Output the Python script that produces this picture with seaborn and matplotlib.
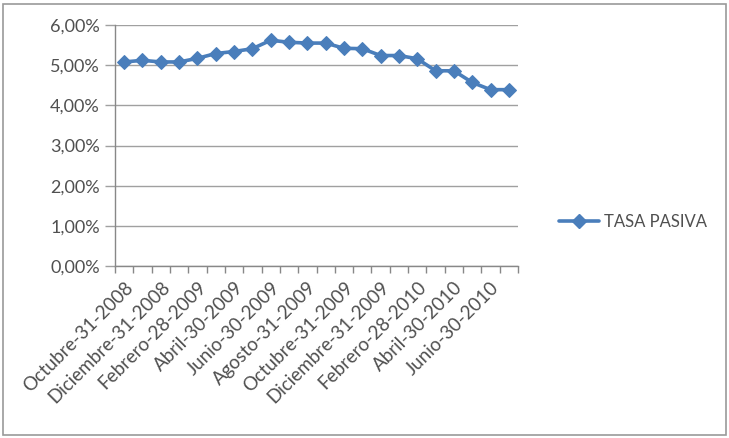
import matplotlib
matplotlib.use("Agg")
import matplotlib.pyplot as plt
import seaborn as sns
import pandas as pd
from matplotlib.patches import Rectangle
from matplotlib.lines import Line2D

fechas = [
    "Octubre-31-2008", "Noviembre-30-2008", "Diciembre-31-2008", "Enero-31-2009",
    "Febrero-28-2009", "Marzo-31-2009", "Abril-30-2009", "Mayo-31-2009",
    "Junio-30-2009", "Julio-31-2009", "Agosto-31-2009", "Septiembre-30-2009",
    "Octubre-31-2009", "Noviembre-30-2009", "Diciembre-31-2009", "Enero-31-2010",
    "Febrero-28-2010", "Marzo-31-2010", "Abril-30-2010", "Mayo-31-2010",
    "Junio-30-2010", "Julio-31-2010",
]
tasa_pasiva = [5.08, 5.12, 5.08, 5.08, 5.17, 5.29, 5.34, 5.41, 5.62, 5.57, 5.55,
               5.55, 5.42, 5.41, 5.24, 5.24, 5.16, 4.86, 4.86, 4.57, 4.39, 4.39]
y_ticks = [0, 1, 2, 3, 4, 5, 6]
serie = "TASA PASIVA"

sns.set_theme(style="white")
plt.rcParams["font.family"] = ["Lato", "DejaVu Sans"]

df = pd.DataFrame({"pos": range(len(fechas)), "fecha": fechas, "valor": tasa_pasiva})

fig = plt.figure(figsize=(7.29, 4.38), dpi=100)
ax = fig.add_axes([115 / 729, 1 - 266 / 438, 403 / 729, 241 / 438])

color = "#4A7EBB"
txt = "#505050"
sns.lineplot(data=df, x="pos", y="valor", ax=ax, color=color, linewidth=2.6,
             marker="D", markersize=7, markeredgecolor=color, legend=False)

ax.set_xlim(-0.5, len(fechas) - 0.5)
ax.set_ylim(0, 6)
ax.set_yticks(y_ticks)
ax.set_yticklabels([f"{v:.2f}%".replace(".", ",") for v in y_ticks],
                   fontsize=13, color=txt)
ax.yaxis.grid(True, color="#A0A0A0", linewidth=1)
ax.set_axisbelow(True)

major = list(range(0, len(fechas), 2))
ax.set_xticks(major)
ax.set_xticklabels([fechas[i] for i in major], rotation=45, ha="right",
                   rotation_mode="anchor", fontsize=13.5, color=txt)
ax.set_xticks([i - 0.5 for i in range(len(fechas) + 1)], minor=True)
ax.tick_params(axis="x", which="major", length=0, pad=9)
ax.tick_params(axis="x", which="minor", length=5, color="#888888", width=1,
               direction="out", bottom=True)
ax.tick_params(axis="y", length=7, color="#A0A0A0", width=1, left=True, pad=4)

for s in ["top", "right"]:
    ax.spines[s].set_visible(False)
for s in ["left", "bottom"]:
    ax.spines[s].set_color("#888888")
    ax.spines[s].set_linewidth(1)

ax.set_xlabel("")
ax.set_ylabel("")

handle = Line2D([0], [0], color=color, linewidth=2.6, marker="D", markersize=7)
fig.legend([handle], [serie], loc="center left",
           bbox_to_anchor=(544 / 729, 1 - 222 / 438), frameon=False,
           fontsize=12, handlelength=2.4, handletextpad=0.3,
           labelcolor=txt)

fig.patches.append(Rectangle((3 / 729, 3 / 438), 723 / 729, 431 / 438,
                             transform=fig.transFigure, fill=False,
                             edgecolor="#9A9A9A", linewidth=1.2))

fig.savefig("out.png", dpi=100)
